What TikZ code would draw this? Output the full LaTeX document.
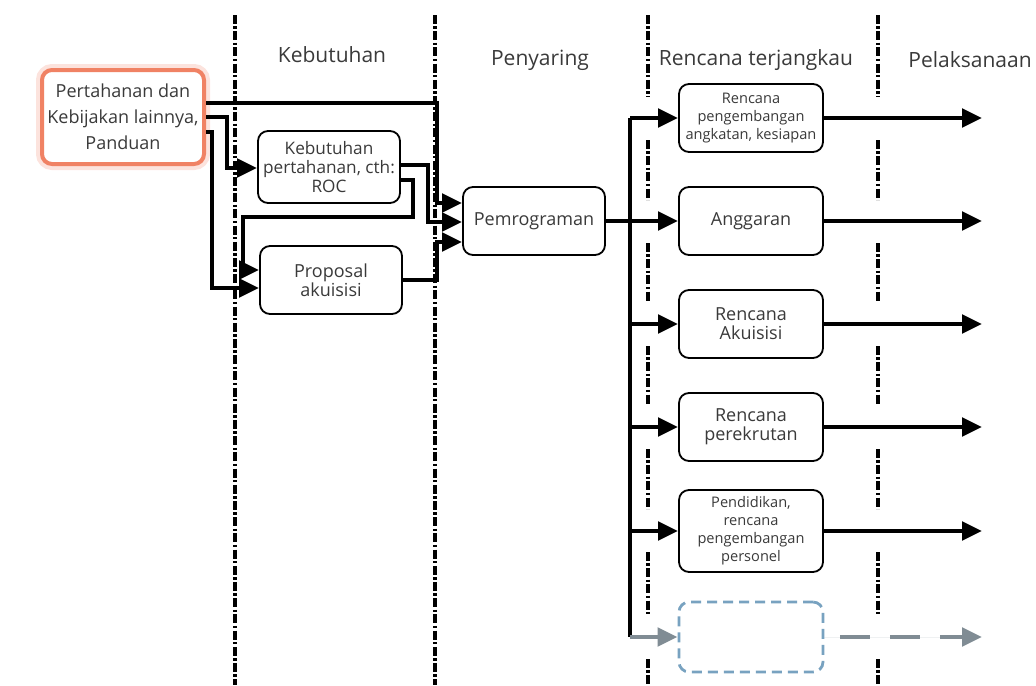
\documentclass[tikz,border=0pt]{standalone}
\usepackage{fontspec}
\setmainfont{Open Sans}
\usetikzlibrary{positioning, arrows.meta}
\definecolor{inkgray}{RGB}{58,58,58}
\definecolor{srcorange}{RGB}{240,130,100}
\definecolor{ghostgray}{RGB}{128,140,148}
\definecolor{ghostblue}{RGB}{120,162,192}

\begin{document}
\begin{tikzpicture}[
    x=0.5pt, y=-0.5pt,
    font=\fontsize{9}{9.5}\selectfont,
    block/.style={draw, line width=0.9pt, rounded corners=5pt, fill=white, text=inkgray, minimum width=71pt, minimum height=34pt, align=center, inner sep=1pt},
    source/.style={block, draw=srcorange, line width=2pt, minimum width=81pt, minimum height=47pt, font=\fontsize{9}{13}\selectfont, preaction={draw=srcorange!22, line width=6pt}},
    small/.style={block, font=\fontsize{7.3}{9}\selectfont},
    ghost/.style={block, draw=ghostblue, dash pattern=on 5pt off 3pt, line width=1.4pt},
    header/.style={text=inkgray, font=\fontsize{10.5}{12}\selectfont},
    divider/.style={line width=1.8pt, dash pattern=on 4.5pt off 1.2pt on 1.2pt off 1.2pt},
    arrow/.style={-{Triangle[length=10pt, width=9pt]}, line width=2.4pt},
    feed/.style={line width=2.2pt},
    ghostarrow/.style={arrow, draw=ghostgray, fill=ghostgray}
]
\useasboundingbox (0,0) rectangle (1036,685);

% Dividers
\foreach \x in {235,435}
  \draw[divider] (\x,15) -- (\x,685);
\foreach \x in {648,878}
  \foreach \a/\b in {15/97,140/200,243/303,346/406,449/509,552/616,659/685}
    \draw[divider] (\x,\a) -- (\x,\b);

% Headers
\node[header] (hneed) at (332,55) {Kebutuhan};
\node[header] (hfilter) at (540,60) {Penyaring};
\node[header] (hplan) at (756,60) {Rencana terjangkau};
\node[header] (hexec) at (970,60) {Pelaksanaan};

% Nodes
\node[source] (src) at (123,117) {Pertahanan dan\\Kebijakan lainnya,\\Panduan};
\node[block, minimum height=36pt, font=\fontsize{8.6}{9.3}\selectfont] (need) at (329,167) {Kebutuhan\\pertahanan, cth:\\ROC};
\node[block] (prop) at (331,280) {Proposal\\akuisisi};
\node[block] (pem) at (534,221) {Pemrograman};

\node[small, minimum width=72pt] (r1) at (751,118) {Rencana\\pengembangan\\angkatan, kesiapan};
\node[block, minimum width=72pt] (r2) at (751,221) {Anggaran};
\node[block, minimum width=72pt] (r3) at (751,324) {Rencana\\Akuisisi};
\node[block, minimum width=72pt] (r4) at (751,427) {Rencana\\perekrutan};
\node[small, minimum width=72pt, minimum height=41pt] (r5) at (751,531) {Pendidikan,\\rencana\\pengembangan\\personel};
\node[ghost, minimum width=72pt, minimum height=35pt] (r6) at (751,637) {};

\coordinate (trunktop) at (630,118);
\foreach \n in {1,...,6}
  \coordinate (out\n) at (982,0 |- r\n.east);

% Connections (left side)
\draw[arrow] (src.east |- 0,103) -| (437,203) -- (pem.west |- 0,203);
\draw[arrow] (src.east |- 0,117) -| (227,168) -- (need.west |- 0,168);
\draw[arrow] (src.east |- 0,132) -| (212,288) -- (prop.west |- 0,288);
\draw[arrow] (need.east |- 0,165) -| (428,222) -- (pem.west |- 0,222);
\draw[arrow] (need.east |- 0,180) -| (413,217) -| (243,270) -- (prop.west |- 0,270);
\draw[arrow] (prop.east |- 0,280) -| (437,242) -- (pem.west |- 0,242);

% Connections (right side)
\draw[feed] (trunktop) -- (trunktop |- r6.west);
\draw[arrow] (trunktop) -- (r1.west);
\draw[arrow] (pem.east) -- (r2.west);
\foreach \n in {3,4,5}
  \draw[arrow] (trunktop |- r\n.west) -- (r\n.west);
\draw[ghostarrow] (trunktop |- r6.west) -- (r6.west);

\foreach \n in {1,...,5}
  \draw[arrow] (r\n.east) -- (out\n);
\draw[ghostarrow, dash pattern=on 15pt off 10pt, dash phase=-8pt] (r6.east) -- (out6);

\end{tikzpicture}
\end{document}
